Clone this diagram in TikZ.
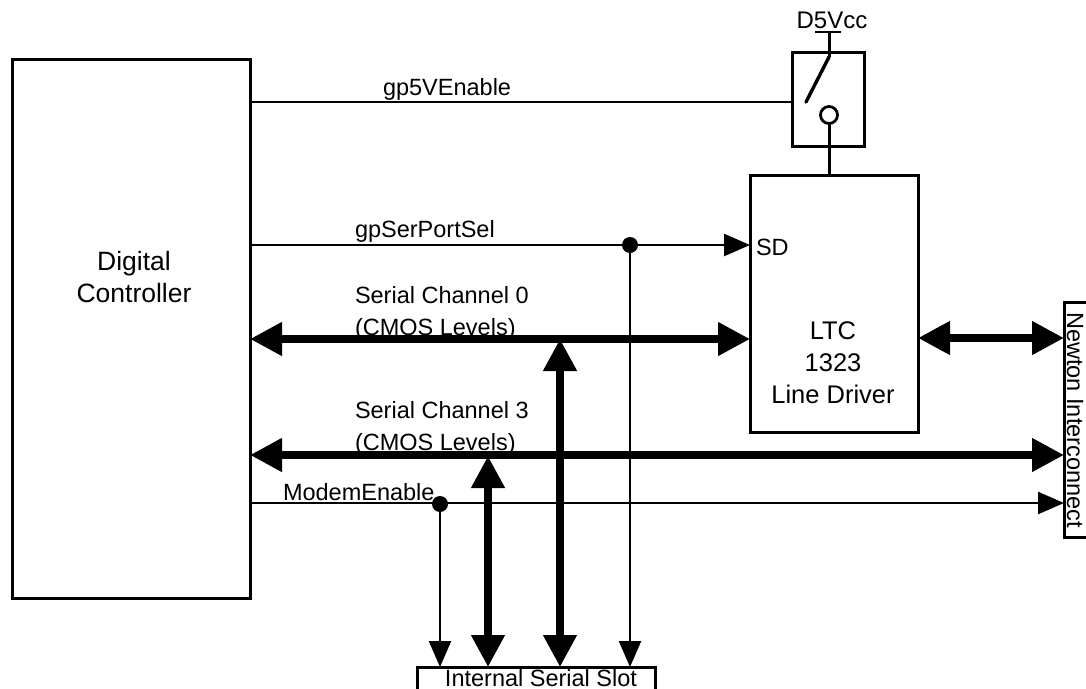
\documentclass[tikz,border=0pt]{standalone}
\usepackage{fontspec}
\setmainfont{Liberation Sans}
\usetikzlibrary{arrows.meta}
\begin{document}
\begin{tikzpicture}[x=1pt,y=-1pt,
  box/.style={draw=black,line width=3pt,fill=none,rectangle,inner sep=0pt,outer sep=0pt,align=center},
  lbl/.style={inner sep=0pt,outer sep=0pt,font=\fontsize{23.5}{32}\selectfont,align=left,text=black},
  biglbl/.style={lbl,align=center,font=\fontsize{25.5}{32}\selectfont},
  wire/.style={draw=black,line width=2.4pt},
  bus/.style={draw=black,line width=7.5pt},
  thinhead/.style={-{Triangle[length=26pt,width=22pt]}},
  bothhead/.style={{Triangle[length=32pt,width=32pt]}-{Triangle[length=32pt,width=32pt]}},
  joint/.style={circle,fill=black,inner sep=0pt,minimum size=16pt,outer sep=0pt}]
\useasboundingbox (0,0) rectangle (1086,688);
% boxes
\node[box,minimum width=238,minimum height=539,anchor=north west] (ctrl) at (12,59) {};
\node[biglbl,anchor=center,font=\fontsize{26.5}{32}\selectfont] (ctrltext) at (134,277) {Digital\\Controller};
\node[box,minimum width=72,minimum height=94,anchor=north west] (sw) at (792,52) {};
\node[box,minimum width=168,minimum height=257,anchor=north west] (drv) at (750,175) {};
\node[biglbl,anchor=center] (drvtext) at (833,363) {LTC\\1323\\Line Driver};
\node[box,minimum width=34,minimum height=235,anchor=north west] (newton) at (1064,302) {};
\node[lbl,rotate=-90,anchor=center] (newtontext) at (1075,420) {Newton Interconnect};
\node[box,minimum width=238,minimum height=40,anchor=north west] (slot) at (417,667) {};
\node[lbl,anchor=base] (slottext) at (541,686) {Internal Serial Slot};
% switch
\coordinate (vcctop) at (829,32);
\coordinate (vccl) at (815,32);
\coordinate (vccr) at (841,32);
\coordinate (bladetop) at (829,57);
\coordinate (bladeend) at (806,102);
\node[draw=black,line width=2.8pt,circle,minimum size=17pt,inner sep=0pt,outer sep=0pt,fill=white] (contact) at (829,115) {};
\node[biglbl,anchor=center,font=\fontsize{24}{32}\selectfont] (vcc) at (832,20) {D5Vcc};
\draw[wire] (vccl) -- (vccr);
\draw[wire,line width=3pt] (vcctop) -- (bladetop);
\draw[wire,line width=3.4pt,line cap=round] (bladetop) -- (bladeend);
\draw[wire,line width=3pt] (contact.south) -- (contact.south |- drv.north);
% named points along the controller, driver, interconnect and slot
\coordinate (p5v) at (ctrl.east |- 0,102);
\coordinate (psel) at (ctrl.east |- 0,245);
\coordinate (pch0) at (ctrl.east |- 0,339);
\coordinate (pch3) at (ctrl.east |- 0,455);
\coordinate (pmod) at (ctrl.east |- 0,503);
\node[joint] (jsel) at (630,245) {};
\node[joint] (jmod) at (440,504) {};
\coordinate (bus0tap) at (560,339);
\coordinate (bus3tap) at (488,456);
% wires
\draw[wire] (p5v) -- (p5v -| sw.west);
\draw[wire,thinhead] (psel) -- (psel -| drv.west);
\draw[bus,bothhead] (pch0) -- (pch0 -| drv.west);
\draw[bus,bothhead] (pch3) -- (pch3 -| newton.west);
\draw[wire,thinhead] (pmod) -- (pmod -| newton.west);
\draw[bus,bothhead] (drv.east |- 0,338) -- (newton.west |- 0,338);
\draw[wire,thinhead] (jmod.center) -- (jmod.center |- slot.north);
\draw[bus,bothhead] (bus3tap) -- (bus3tap |- slot.north);
\draw[bus,bothhead] (bus0tap) -- (bus0tap |- slot.north);
\draw[wire,thinhead] (jsel.center) -- (jsel.center |- slot.north);
% labels
\node[lbl,anchor=west] (l5v) at (383,89) {gp5VEnable};
\node[lbl,anchor=west] (lsel) at (355,231) {gpSerPortSel};
\node[lbl,anchor=west] (lsd) at (756,247) {SD};
\node[lbl,anchor=west] (lch0) at (355,313) {Serial Channel 0\\(CMOS Levels)};
\node[lbl,anchor=west] (lch3) at (355,428) {Serial Channel 3\\(CMOS Levels)};
\node[lbl,anchor=west] (lmod) at (283,492) {ModemEnable};
\end{tikzpicture}
\end{document}
